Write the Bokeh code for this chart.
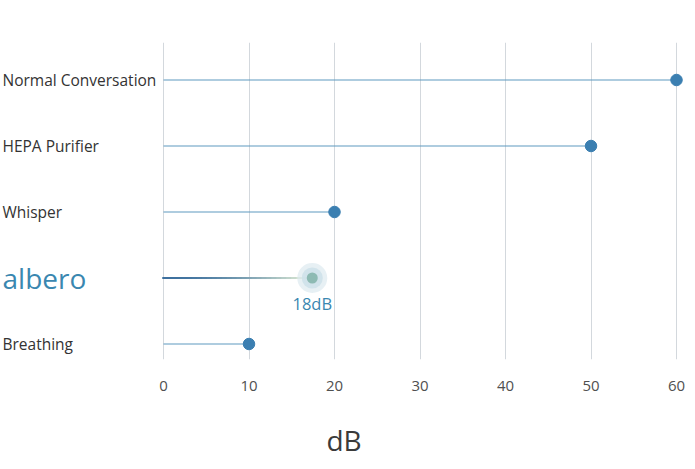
from bokeh.plotting import figure
from bokeh.models import ColumnDataSource, FixedTicker
from bokeh.core.properties import value
from bokeh.embed import file_html
from bokeh.resources import INLINE

# ---- data ----
categories = ["Normal Conversation", "HEPA Purifier", "Whisper", "albero", "Breathing"]
db_values = [60, 50, 20, 17.4, 10]
highlight = "albero"
highlight_label = "18dB"
x_ticks = [0, 10, 20, 30, 40, 50, 60]

FONT = "Open Sans"
W, H = 687, 461
X0_PX, X60_PX = 163, 676          # canvas px of 0 and 60
scale = (X60_PX - X0_PX) / 60.0
x_start = -X0_PX / scale
x_end = 60 + (W - X60_PX) / scale

TOP, BOTTOM = 42, 359               # frame top/bottom (canvas px)
ROW_TOP, ROW_BOT = 79.5, 343.5      # row centres
n = len(categories)
row_px = (ROW_BOT - ROW_TOP) / (n - 1)
y_end = (n - 1) + (ROW_TOP - TOP) / row_px
y_start = -(BOTTOM - ROW_BOT) / row_px
ypos = [n - 1 - i for i in range(n)]  # top row highest

p = figure(width=W, height=H, output_backend="svg", toolbar_location=None,
           x_range=(x_start, x_end), y_range=(y_start, y_end),
           min_border_left=0, min_border_right=0, min_border_top=TOP,
           min_border_bottom=0)
p.outline_line_color = None
p.background_fill_color = "white"
p.border_fill_color = "white"

# axes
p.yaxis.visible = False
p.ygrid.grid_line_color = None
ax = p.xaxis[0]
ax.ticker = FixedTicker(ticks=x_ticks)
ax.axis_line_color = None
ax.major_tick_line_color = None
ax.minor_tick_line_color = None
ax.major_label_text_font = FONT
ax.major_label_text_font_size = "15px"
ax.major_label_text_color = "#505050"
ax.major_label_standoff = 15
ax.axis_label = "dB"
ax.axis_label_text_font = FONT
ax.axis_label_text_font_size = "28px"
ax.axis_label_text_font_style = "normal"
ax.axis_label_text_color = "#3a3a3a"
ax.axis_label_standoff = 27
p.xgrid.ticker = FixedTicker(ticks=x_ticks)
p.xgrid.grid_line_color = "#d3d8dd"
p.xgrid.grid_line_width = 1

normal_idx = [i for i, c in enumerate(categories) if c != highlight]
hi = categories.index(highlight)

src = ColumnDataSource(dict(
    x=[db_values[i] for i in normal_idx],
    y=[ypos[i] for i in normal_idx],
    x0=[0] * len(normal_idx),
))
p.segment(x0="x0", y0="y", x1="x", y1="y", source=src,
          line_color="#5e99c0", line_width=1.1)
p.scatter(x="x", y="y", source=src, size=11.5, fill_color="#3b7fb1",
          line_color="#3b7fb1")

# highlighted gradient stem (drawn as thin overlapping screen-height bars)
hv, hy = db_values[hi], ypos[hi]
steps = 30
c0 = (0x3d, 0x70, 0x9e)
c1 = (0xe4, 0xf0, 0xd6)
gx, gw, gcol = [], [], []
step = hv / steps
for k in range(steps):
    gx.append(step * (k + 0.5))
    gw.append(step * 1.5)
    t = (k / (steps - 1)) ** 1.7
    col = tuple(int(round(c0[j] + (c1[j] - c0[j]) * t)) for j in range(3))
    gcol.append("#%02x%02x%02x" % col)
gsrc = ColumnDataSource(dict(x=gx, w=gw, y=[hy] * steps, c=gcol))
p.rect(x="x", y="y", width="w", height=2.2, height_units="screen",
       source=gsrc, fill_color="c", line_color=None)
p.scatter(x=[hv], y=[hy], size=30, fill_color="#dde9f0", fill_alpha=0.7,
          line_color=None)
p.scatter(x=[hv], y=[hy], size=21, fill_color="#cde0e9", fill_alpha=0.85,
          line_color=None)
p.scatter(x=[hv], y=[hy], size=11, fill_color="#8dbab3", line_color=None)
p.text(x=[hv], y=[hy], text=[highlight_label], text_font=value(FONT),
       text_font_size="16.5px", text_color="#3a87b0", text_align="center",
       text_baseline="middle", y_offset=25)

# category labels, left aligned
lab_x = x_start + 2 / scale
lsrc = ColumnDataSource(dict(
    x=[lab_x] * n, y=ypos, t=categories,
    size=["28px" if c == highlight else "15.5px" for c in categories],
    color=["#3a87b0" if c == highlight else "#333333" for c in categories],
))
p.text(x="x", y="y", text="t", source=lsrc, text_font=value(FONT),
       text_font_size="size", text_color="color", text_align="left",
       text_baseline="middle")

open("out.html", "w").write(file_html(p, INLINE))
